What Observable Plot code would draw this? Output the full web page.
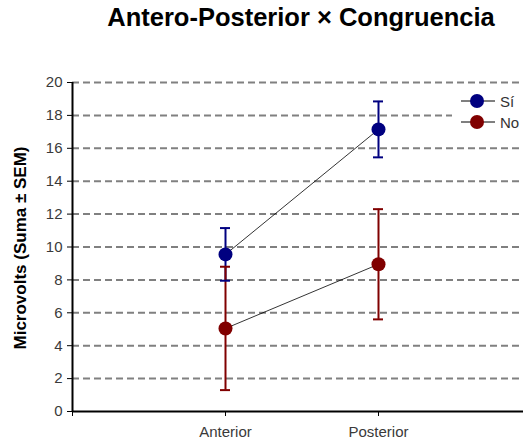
<!DOCTYPE html>
<html>
<head>
<meta charset="utf-8">
<script src="https://cdn.jsdelivr.net/npm/d3@7"></script>
<script src="https://cdn.jsdelivr.net/npm/@observablehq/plot@0.6"></script>
<style>
  body { margin: 0; background: #fff; font-family: "Liberation Sans", Arial, sans-serif; }
  #wrap { position: relative; width: 523px; height: 442px; overflow: hidden; }
  #title { position: absolute; left: 0; width: 602px; top: 3px; text-align: center;
           font-weight: bold; font-size: 25.5px; color: #000; white-space: nowrap; }
  #chart { position: absolute; left: 0; top: 42px; }
  #legend { position: absolute; left: 452px; top: 89px; width: 80px; height: 48px;
            background: #fff; font-size: 15px; color: #333; }
  .row { position: absolute; left: 8px; height: 16px; display: flex; align-items: center; }
  .row span { margin-left: 4px; }
</style>
</head>
<body>
<div id="wrap">
  <div id="title">Antero-Posterior × Congruencia</div>
  <div id="chart"></div>
  <div id="legend"></div>
</div>
<script>
// Congruence condition (Sí / No) across antero-posterior sites
const stages = ["Anterior", "Posterior"];
const groups = ["Sí", "No"];
const colors = ["#000080", "#800000"];
const siMean = [9.55, 17.15];
const siSem = [1.6, 1.7];
const noMean = [5.05, 8.95];
const noSem = [3.75, 3.35];
const yTicks = [0, 2, 4, 6, 8, 10, 12, 14, 16, 18, 20];

const rows = [];
stages.forEach((s, i) => {
  rows.push({group: "Sí", pos: i + 1, mean: siMean[i], sem: siSem[i]});
  rows.push({group: "No", pos: i + 1, mean: noMean[i], sem: noSem[i]});
});

const color = {domain: groups, range: colors};

const plot = Plot.plot({
  width: 523,
  height: 400,
  marginTop: 40,
  marginBottom: 31,
  marginLeft: 72,
  marginRight: 0,
  style: {fontFamily: "Liberation Sans, Arial, sans-serif", fontSize: "15px", color: "#3a3a3a"},
  x: {domain: [0, 3], range: [72, 531]},
  y: {domain: [0, 20]},
  color,
  marks: [
    Plot.ruleY(yTicks.filter(d => d > 0), {stroke: "#808080", strokeWidth: 2, strokeDasharray: "7,4"}),
    Plot.axisY({ticks: yTicks, tickSize: 5, tickPadding: 5, label: null, fontSize: 15, stroke: "#000"}),
    Plot.axisX({ticks: [0, 1, 2], tickSize: 5, tickPadding: 10, tickFormat: d => stages[d - 1] ?? "", label: null, fontSize: 15, stroke: "#000"}),
    Plot.ruleX([0], {stroke: "#000", strokeWidth: 2}),
    Plot.ruleY([0], {stroke: "#000", strokeWidth: 2}),
    Plot.line(rows, {x: "pos", y: "mean", z: "group", stroke: "#000", strokeWidth: 0.8}),
    Plot.ruleX(rows, {x: "pos", y1: d => d.mean - d.sem, y2: d => d.mean + d.sem, stroke: "group", strokeWidth: 2}),
    Plot.ruleY(rows, {x1: "pos", x2: "pos", y: d => d.mean + d.sem, stroke: "group", strokeWidth: 2, insetLeft: -5, insetRight: -5}),
    Plot.ruleY(rows, {x1: "pos", x2: "pos", y: d => d.mean - d.sem, stroke: "group", strokeWidth: 2, insetLeft: -5, insetRight: -5}),
    Plot.dot(rows, {x: "pos", y: "mean", fill: "group", r: 7})
  ]
});
document.getElementById("chart").append(plot);

// y-axis title
const svg = d3.select(plot);
svg.append("text")
  .attr("transform", "translate(22,206) rotate(-90)")
  .attr("text-anchor", "middle")
  .attr("dominant-baseline", "middle")
  .style("font-size", "17px")
  .style("font-weight", "bold")
  .style("fill", "#000")
  .text("Microvolts (Suma ± SEM)");

// legend
const legend = document.getElementById("legend");
groups.forEach((g, i) => {
  const row = document.createElement("div");
  row.className = "row";
  row.style.top = (4 + i * 21) + "px";
  row.innerHTML = `<svg width="36" height="16"><line x1="1" x2="35" y1="8" y2="8" stroke="#000" stroke-width="1"/><circle cx="17" cy="8" r="7" fill="${colors[i]}"/></svg><span>${g}</span>`;
  legend.append(row);
});
</script>
</body>
</html>
